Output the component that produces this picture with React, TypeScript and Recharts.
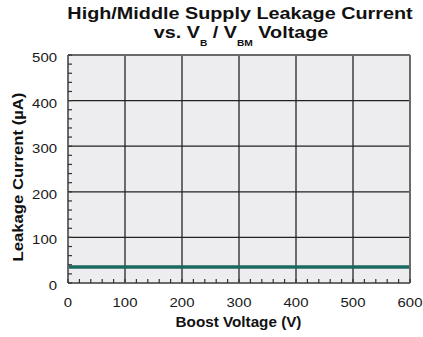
import { LineChart, Line, XAxis, YAxis, CartesianGrid, ReferenceLine } from 'recharts';

// sweep points (V, uA)
const boostVoltage = [0, 100, 200, 300, 400, 500, 600];
const leakageCurrent = [35, 35, 35, 35, 35, 35, 35];

const xLabels = [0, 100, 200, 300, 400, 500, 600];
const yLabels = [0, 100, 200, 300, 400, 500];
const xGrid = [100, 200, 300, 400, 500];
const yGrid = [100, 200, 300, 400];
const xMinor = [0, 20, 40, 60, 80, 100, 120, 140, 160, 180, 200, 220, 240, 260, 280, 300, 320, 340, 360, 380, 400, 420, 440, 460, 480, 500, 520, 540, 560, 580, 600];
const xTopMinor = [60, 120, 180, 240, 360, 420, 480, 540];
const yMinor = [0, 20, 40, 60, 80, 100, 120, 140, 160, 180, 200, 220, 240, 260, 280, 300, 320, 340, 360, 380, 400, 420, 440, 460, 480, 500];

const data = boostVoltage.map((v, i) => ({ v, i: leakageCurrent[i] }));

const font = '"Liberation Sans", Arial, Helvetica, sans-serif';
const frame = '#6a6a6a';
const tickColor = '#333';

const BottomTick = (props: any) => {
  const { x, y, payload } = props;
  return (
    <g>
      <line x1={x} x2={x} y1={y} y2={y - 4} stroke={tickColor} strokeWidth={1.2} />
      {xLabels.includes(payload.value) && (
        <g transform={`translate(${x},${y + 23.5}) scale(1.15,1)`}>
          <text x={0} y={0} textAnchor="middle" fontFamily={font} fontSize={13} fill="#1a1a1a">
            {payload.value}
          </text>
        </g>
      )}
    </g>
  );
};

const TopTick = (props: any) => {
  const { x, y } = props;
  return <line x1={x} x2={x} y1={y} y2={y + 3} stroke={tickColor} strokeWidth={1} />;
};

const LeftTick = (props: any) => {
  const { x, y, payload } = props;
  return (
    <g>
      <line x1={x} x2={x + 4} y1={y} y2={y} stroke={tickColor} strokeWidth={1.2} />
      {yLabels.includes(payload.value) && (
        <g transform={`translate(${x - 11},${y + 7}) scale(1.15,1)`}>
          <text x={0} y={0} textAnchor="end" fontFamily={font} fontSize={13} fill="#1a1a1a">
            {payload.value}
          </text>
        </g>
      )}
    </g>
  );
};

const RightTick = (props: any) => {
  const { x, y } = props;
  return <line x1={x} x2={x - 4} y1={y} y2={y} stroke={tickColor} strokeWidth={1.2} />;
};

export default function App() {
  return (
    <div style={{ position: 'absolute', left: 0, top: 0, width: 423, height: 337, background: '#fff' }}>
      <LineChart width={423} height={337} data={data} margin={{ top: 54, right: 12, bottom: 53, left: 67 }}>
        <CartesianGrid xAxisId="b" yAxisId="l" fill="#ededef" horizontal={false} vertical={false} />
        <XAxis xAxisId="b" dataKey="v" type="number" domain={[0, 600]} ticks={xMinor} interval={0}
          height={1} tickSize={0} tickMargin={0} tickLine={false} tick={BottomTick}
          axisLine={{ stroke: frame, strokeWidth: 2 }} />
        <XAxis xAxisId="t" orientation="top" type="number" domain={[0, 600]} ticks={xTopMinor} interval={0}
          height={1} tickSize={0} tickMargin={0} tickLine={false} tick={TopTick}
          axisLine={{ stroke: frame, strokeWidth: 2 }} />
        <YAxis yAxisId="l" type="number" domain={[0, 500]} ticks={yMinor} interval={0}
          width={1} tickSize={0} tickMargin={0} tickLine={false} tick={LeftTick}
          axisLine={{ stroke: frame, strokeWidth: 2 }} />
        <YAxis yAxisId="r" orientation="right" type="number" domain={[0, 500]} ticks={yMinor} interval={0}
          width={1} tickSize={0} tickMargin={0} tickLine={false} tick={RightTick}
          axisLine={{ stroke: frame, strokeWidth: 2 }} />
        {xGrid.map((g) => (
          <ReferenceLine key={'x' + g} xAxisId="b" yAxisId="l" x={g} stroke="#4a4a4a" strokeWidth={1.6} />
        ))}
        {yGrid.map((g) => (
          <ReferenceLine key={'y' + g} xAxisId="b" yAxisId="l" y={g} stroke="#222" strokeWidth={1.2} />
        ))}
        <Line xAxisId="b" yAxisId="l" type="linear" dataKey="i" stroke="#1a6a60" strokeWidth={3.5}
          dot={false} isAnimationActive={false} />
      </LineChart>
      <svg width={423} height={337} style={{ position: 'absolute', left: 0, top: 0, pointerEvents: 'none' }}>
        <g transform="translate(240,19) scale(1.2,1)">
          <text x={0} y={0} textAnchor="middle" fontFamily={font} fontWeight="bold" fontSize={16.5} fill="#111">
            High/Middle Supply Leakage Current
          </text>
        </g>
        <g transform="translate(241,37.7) scale(1.2,1)">
          <text x={0} y={0} textAnchor="middle" fontFamily={font} fontWeight="bold" fontSize={16.5} fill="#111">
            vs. V<tspan fontSize={8.5} dy={8}>B</tspan><tspan dy={-8}> / V</tspan><tspan fontSize={8.5} dy={8}>BM</tspan><tspan dy={-8}> Voltage</tspan>
          </text>
        </g>
        <g transform="translate(238.5,327) scale(1.09,1)">
          <text x={0} y={0} textAnchor="middle" fontFamily={font} fontWeight="bold" fontSize={14} fill="#111">
            Boost Voltage (V)
          </text>
        </g>
        <g transform="translate(23,177) rotate(-90) scale(1.15,1)">
          <text x={0} y={0} textAnchor="middle" fontFamily={font} fontWeight="bold" fontSize={14.5} fill="#111">
            Leakage Current (µA)
          </text>
        </g>
      </svg>
    </div>
  );
}
